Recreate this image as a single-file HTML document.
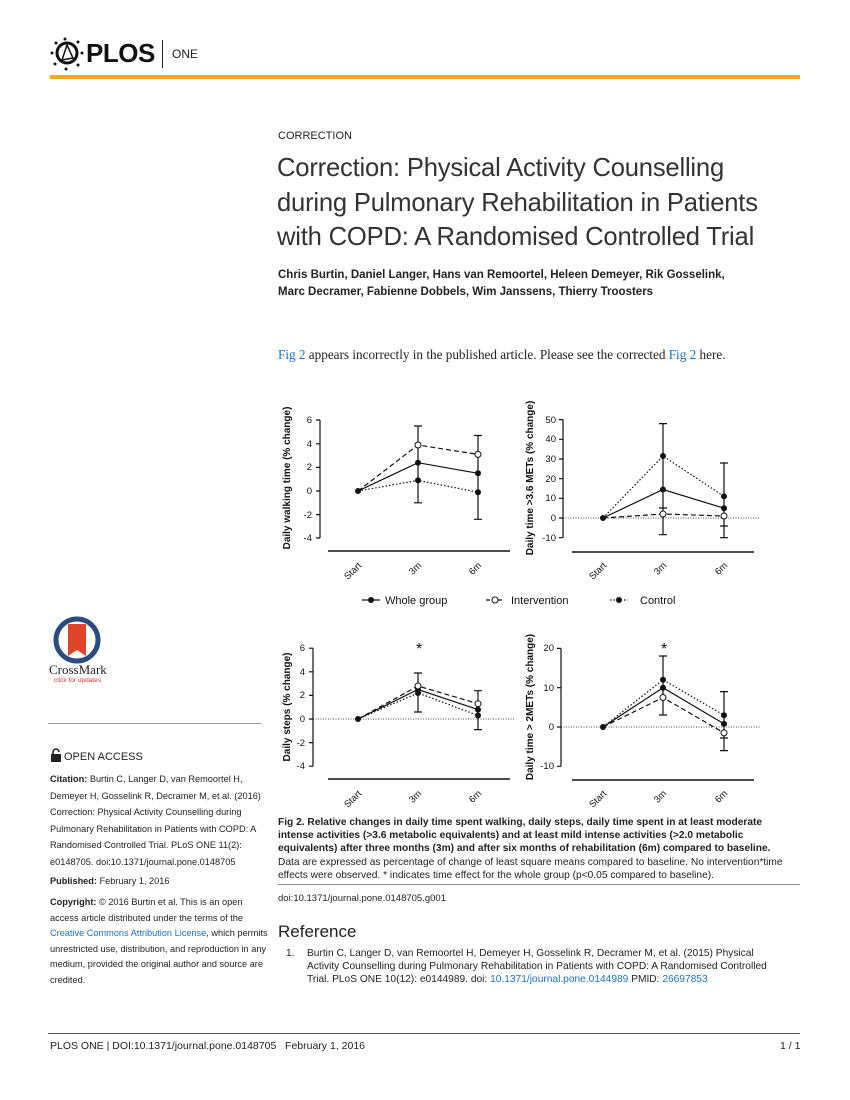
<!DOCTYPE html>
<html><head><meta charset="utf-8"><style>
body{margin:0;width:850px;height:1100px;background:#fff;position:relative;font-family:"Liberation Sans",sans-serif;color:#222;overflow:hidden}
.a{position:absolute;white-space:nowrap}
a,.lk{color:#1a73c8}
.sb{font-size:9.2px;line-height:16.5px;color:#222}
</style></head><body>
<!-- header -->
<svg class="a" style="left:48px;top:36px" width="40" height="36" viewBox="0 0 40 36">
<circle cx="19" cy="17" r="10" fill="none" stroke="#111" stroke-width="3"/>
<path d="M14 24 L19 9 L25 22 Z" fill="none" stroke="#111" stroke-width="1.5"/>
<g fill="#111"><circle cx="4" cy="17" r="1.5"/><circle cx="8" cy="7" r="1.5"/><circle cx="17" cy="3" r="1.5"/><circle cx="30" cy="6" r="1.5"/><circle cx="34" cy="17" r="1.5"/><circle cx="30" cy="29" r="1.5"/><circle cx="18" cy="33" r="1.5"/><circle cx="7" cy="28" r="1.5"/></g></svg>
<div class="a" style="left:86px;top:38px;font-size:26px;font-weight:bold;color:#111;letter-spacing:-0.5px">PLOS</div>
<div class="a" style="left:162px;top:40px;width:1px;height:28px;background:#222"></div>
<div class="a" style="left:172px;top:47px;font-size:12px;color:#222">ONE</div>
<div class="a" style="left:50px;top:75px;width:750px;height:4px;background:#f5a623"></div>

<div class="a" style="left:278px;top:130px;font-size:11px">CORRECTION</div>
<div class="a" style="left:277px;top:151px;font-size:25.6px;line-height:34.5px;color:#333;letter-spacing:-0.2px">Correction: Physical Activity Counselling<br>during Pulmonary Rehabilitation in Patients<br>with COPD: A Randomised Controlled Trial</div>
<div class="a" style="left:278px;top:267px;font-size:11.5px;font-weight:bold;line-height:16.5px">Chris Burtin, Daniel Langer, Hans van Remoortel, Heleen Demeyer, Rik Gosselink,<br>Marc Decramer, Fabienne Dobbels, Wim Janssens, Thierry Troosters</div>
<div class="a" style="left:278px;top:347px;font-family:'Liberation Serif',serif;font-size:13.2px"><span class="lk">Fig 2</span> appears incorrectly in the published article. Please see the corrected <span class="lk">Fig 2</span> here.</div>

<!-- charts -->
<svg class="a" style="left:0;top:0" width="850" height="1100" font-family="Liberation Sans, sans-serif" font-size="9.5" fill="#111">
<g stroke="#111" stroke-width="1.2" fill="none">
<line x1="320" y1="420" x2="320" y2="538"/>
<path d="M316 420h4M316 443.8h4M316 467.4h4M316 491h4M316 514.6h4M316 538h4"/>
<line x1="328" y1="551" x2="510" y2="551" stroke-width="1.5"/>
<line x1="563" y1="419.6" x2="563" y2="537.7"/>
<path d="M559 419.6h4M559 439.3h4M559 459h4M559 478.7h4M559 498.3h4M559 518h4M559 537.7h4"/>
<line x1="572" y1="552" x2="754" y2="552" stroke-width="1.5"/>
<line x1="563" y1="518" x2="760" y2="518" stroke-dasharray="1,1.5" stroke-width="0.8"/>
<line x1="313" y1="648.2" x2="313" y2="766.2"/>
<path d="M309 648.2h4M309 671.8h4M309 695.4h4M309 719h4M309 742.6h4M309 766.2h4"/>
<line x1="328" y1="779" x2="510" y2="779" stroke-width="1.5"/>
<line x1="313" y1="719" x2="515" y2="719" stroke-dasharray="1,1.5" stroke-width="0.8"/>
<line x1="561" y1="648.4" x2="561" y2="766.3"/>
<path d="M557 648.4h4M557 687.7h4M557 727h4M557 766.3h4"/>
<line x1="572" y1="780" x2="754" y2="780" stroke-width="1.5"/>
<line x1="561" y1="727" x2="760" y2="727" stroke-dasharray="1,1.5" stroke-width="0.8"/>

<polyline points="358,491 418,462.7 478,473.3"/>
<polyline points="358,491 418,445 478,454.4" stroke-dasharray="5,3"/>
<polyline points="358,491 418,480.4 478,492.2" stroke-dasharray="1.5,2"/>
<path d="M418 426V502.8M414 426h8M414 502.8h8M478 435.5V519.3M474 519.3h8M474 435.5h8"/>
<polyline points="603,518 663,489.5 724,508.2"/>
<polyline points="603,518 663,514 724,516" stroke-dasharray="5,3"/>
<polyline points="603,518 663,456 724,496.4" stroke-dasharray="1.5,2"/>
<path d="M663 423.6V534.7M659 423.6h8M659 534.7h8M659 508h8M724 463V537.7M720 463h8M720 537.7h8M720 526h8"/>
<polyline points="358,719 418,689.5 478,709.6"/>
<polyline points="358,719 418,686 478,703.7" stroke-dasharray="5,3"/>
<polyline points="358,719 418,693 478,715.5" stroke-dasharray="1.5,2"/>
<path d="M418 673V712M414 673h8M414 712h8M478 690.7V729.6M474 690.7h8M474 729.6h8"/>
<polyline points="603,727 663,687.7 724,723.9"/>
<polyline points="603,727 663,697.5 724,732.9" stroke-dasharray="5,3"/>
<polyline points="603,727 663,679.8 724,715.2" stroke-dasharray="1.5,2"/>
<path d="M663 656V715M659 656h8M659 715h8M724 691.6V750.6M720 691.6h8M720 750.6h8M720 738h8"/>
<line x1="362" y1="600" x2="380" y2="600"/>
<line x1="486" y1="600" x2="504" y2="600" stroke-dasharray="4,2"/>
<line x1="610" y1="600" x2="628" y2="600" stroke-dasharray="1.5,2"/>
</g>
<g fill="#111">
<circle cx="358" cy="491" r="3"/><circle cx="418" cy="462.7" r="3"/><circle cx="478" cy="473.3" r="3"/>
<circle cx="418" cy="480.4" r="3"/><circle cx="478" cy="492.2" r="3"/>
<circle cx="603" cy="518" r="3"/><circle cx="663" cy="489.5" r="3"/><circle cx="724" cy="508.2" r="3"/><circle cx="663" cy="456" r="3"/><circle cx="724" cy="496.4" r="3"/>
<circle cx="358" cy="719" r="3"/><circle cx="418" cy="689.5" r="3"/><circle cx="478" cy="709.6" r="3"/><circle cx="418" cy="693" r="3"/><circle cx="478" cy="715.5" r="3"/>
<circle cx="603" cy="727" r="3"/><circle cx="663" cy="687.7" r="3"/><circle cx="724" cy="723.9" r="3"/><circle cx="663" cy="679.8" r="3"/><circle cx="724" cy="715.2" r="3"/>
<circle cx="371" cy="600" r="3"/><circle cx="619" cy="600" r="3"/>
</g>
<g fill="#fff" stroke="#111" stroke-width="1">
<circle cx="418" cy="445" r="3"/><circle cx="478" cy="454.4" r="3"/>
<circle cx="663" cy="514" r="3"/><circle cx="724" cy="516" r="3"/>
<circle cx="418" cy="686" r="3"/><circle cx="478" cy="703.7" r="3"/>
<circle cx="663" cy="697.5" r="3"/><circle cx="724" cy="732.9" r="3"/>
<circle cx="495" cy="600" r="3"/>
</g>
<g text-anchor="end">
<text x="312" y="423">6</text><text x="312" y="447">4</text><text x="312" y="470">2</text><text x="312" y="494">0</text><text x="312" y="518">-2</text><text x="312" y="541">-4</text>
<text x="556" y="423">50</text><text x="556" y="442">40</text><text x="556" y="462">30</text><text x="556" y="482">20</text><text x="556" y="501">10</text><text x="556" y="521">0</text><text x="556" y="541">-10</text>
<text x="305" y="651">6</text><text x="305" y="675">4</text><text x="305" y="698">2</text><text x="305" y="722">0</text><text x="305" y="746">-2</text><text x="305" y="769">-4</text>
<text x="554" y="651">20</text><text x="554" y="691">10</text><text x="554" y="730">0</text><text x="554" y="769">-10</text>
</g>
<g text-anchor="end">
<text transform="translate(362,566) rotate(-45)">Start</text><text transform="translate(422,566) rotate(-45)">3m</text><text transform="translate(482,566) rotate(-45)">6m</text>
<text transform="translate(607,566) rotate(-45)">Start</text><text transform="translate(667,566) rotate(-45)">3m</text><text transform="translate(728,566) rotate(-45)">6m</text>
<text transform="translate(362,794) rotate(-45)">Start</text><text transform="translate(422,794) rotate(-45)">3m</text><text transform="translate(482,794) rotate(-45)">6m</text>
<text transform="translate(607,794) rotate(-45)">Start</text><text transform="translate(667,794) rotate(-45)">3m</text><text transform="translate(728,794) rotate(-45)">6m</text>
</g>
<g font-weight="bold" text-anchor="middle" font-size="10">
<text transform="translate(290,478) rotate(-90)">Daily walking time (% change)</text>
<text transform="translate(533,478) rotate(-90)">Daily time &gt;3.6 METs (% change)</text>
<text transform="translate(290,707) rotate(-90)">Daily steps (% change)</text>
<text transform="translate(533,707) rotate(-90)">Daily time &gt; 2METs (% change)</text>
</g>
<text x="416" y="654" font-size="16">*</text><text x="661" y="654" font-size="16">*</text>
<g font-size="11"><text x="385" y="604">Whole group</text><text x="511" y="604">Intervention</text><text x="640" y="604">Control</text></g>
</svg>

<div class="a" style="left:278px;top:816px;font-size:10.2px;line-height:13.2px;color:#222"><b>Fig 2. Relative changes in daily time spent walking, daily steps, daily time spent in at least moderate<br>intense activities (&gt;3.6 metabolic equivalents) and at least mild intense activities (&gt;2.0 metabolic<br>equivalents) after three months (3m) and after six months of rehabilitation (6m) compared to baseline.</b><br>Data are expressed as percentage of change of least square means compared to baseline. No intervention*time<br>effects were observed. * indicates time effect for the whole group (p&lt;0.05 compared to baseline).</div>
<div class="a" style="left:278px;top:884px;width:522px;height:1px;background:#888"></div>
<div class="a" style="left:278px;top:893px;font-size:9.5px">doi:10.1371/journal.pone.0148705.g001</div>
<div class="a" style="left:278px;top:922px;font-size:17px">Reference</div>
<div class="a" style="left:286px;top:947px;font-size:10.2px;line-height:13.2px">1.</div>
<div class="a" style="left:307px;top:947px;font-size:10.2px;line-height:13.2px">Burtin C, Langer D, van Remoortel H, Demeyer H, Gosselink R, Decramer M, et al. (2015) Physical<br>Activity Counselling during Pulmonary Rehabilitation in Patients with COPD: A Randomised Controlled<br>Trial. PLoS ONE 10(12): e0144989. doi: <span class="lk">10.1371/journal.pone.0144989</span> PMID: <span class="lk">26697853</span></div>

<!-- sidebar -->
<svg class="a" style="left:53px;top:616px" width="48" height="48"><circle cx="24" cy="24" r="21" fill="none" stroke="#2b4c7e" stroke-width="5"/><path d="M15 8h18v32l-9-6-9 6z" fill="#e0442b"/></svg>
<div class="a" style="left:49px;top:662px;font-family:'Liberation Serif',serif;font-size:13px;color:#222">CrossMark</div>
<div class="a" style="left:54px;top:677px;font-size:6.5px;color:#d33">click for updates</div>
<div class="a" style="left:48px;top:723px;width:213px;height:1px;background:#999"></div>
<svg class="a" style="left:50px;top:748px" width="12" height="14"><rect x="1" y="6" width="10" height="8" fill="#222"/><path d="M3 6V4a3 3 0 0 1 6 0" fill="none" stroke="#222" stroke-width="1.6"/></svg>
<div class="a" style="left:64px;top:751px;font-size:11px">OPEN ACCESS</div>
<div class="a sb" style="left:50px;top:771px"><b>Citation:</b> Burtin C, Langer D, van Remoortel H,<br>Demeyer H, Gosselink R, Decramer M, et al. (2016)<br>Correction: Physical Activity Counselling during<br>Pulmonary Rehabilitation in Patients with COPD: A<br>Randomised Controlled Trial. PLoS ONE 11(2):<br>e0148705. doi:10.1371/journal.pone.0148705</div>
<div class="a sb" style="left:50px;top:873px"><b>Published:</b> February 1, 2016</div>
<div class="a sb" style="left:50px;top:895px;line-height:15.6px"><b>Copyright:</b> © 2016 Burtin et al. This is an open<br>access article distributed under the terms of the<br><span class="lk">Creative Commons Attribution License</span>, which permits<br>unrestricted use, distribution, and reproduction in any<br>medium, provided the original author and source are<br>credited.</div>

<!-- footer -->
<div class="a" style="left:48px;top:1033px;width:752px;height:1px;background:#555"></div>
<div class="a" style="left:50px;top:1040px;font-size:10.5px">PLOS ONE | DOI:10.1371/journal.pone.0148705 &nbsp;&nbsp;February 1, 2016</div>
<div class="a" style="left:780px;top:1040px;font-size:10.5px">1 / 1</div>
</body></html>
